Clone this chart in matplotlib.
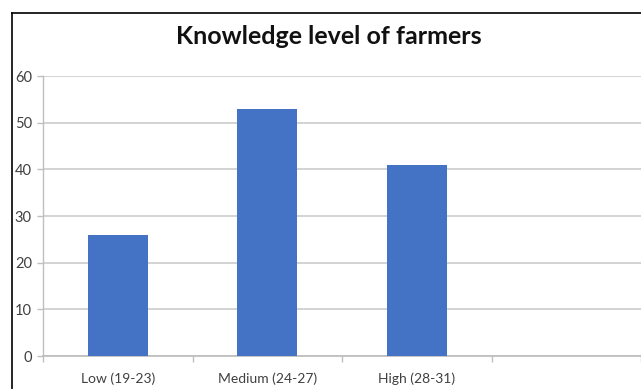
import matplotlib
matplotlib.use("Agg")
from matplotlib import pyplot as plt
from matplotlib.lines import Line2D

categories = ["Low (19-23)", "Medium (24-27)", "High (28-31)"]
values = [26, 53, 41]
yticks = [0, 10, 20, 30, 40, 50, 60]

plt.rcParams['font.family'] = ['Lato', 'DejaVu Sans']

fig = plt.figure(figsize=(6.41, 3.89), dpi=100)
fig.patch.set_facecolor("white")

W, H = 641, 389
# axes run past the right edge of the picture, like the cropped original
ax = fig.add_axes([43 / W, (H - 356) / H, 598 / W, 280 / H])

x = list(range(len(categories)))
ax.bar(x, values, width=0.4, color="#4472C4", zorder=3)

ax.set_xlim(-0.5, 3.5)
ax.set_ylim(0, 60)
ax.set_yticks(yticks)
ax.set_yticklabels([str(v) for v in yticks])
ax.set_xticks(x)
ax.set_xticklabels(categories)
ax.tick_params(axis="x", length=0, pad=12, labelsize=10, labelcolor="#404040")
ax.set_xticks([-0.5, 0.5, 1.5, 2.5, 3.5], minor=True)
ax.tick_params(axis="x", which="minor", length=4, width=1, color="#bfbfbf")
ax.tick_params(axis="y", length=4, width=1, color="#bfbfbf", pad=4,
               labelsize=10.5, labelcolor="#404040")

ax.grid(axis="y", color="#d0d0d0", linewidth=1.3, zorder=0)
for s in ["top", "right"]:
    ax.spines[s].set_visible(False)
ax.spines["left"].set_color("#bfbfbf")
ax.spines["bottom"].set_color("#bfbfbf")
ax.spines["left"].set_linewidth(1)
ax.spines["bottom"].set_linewidth(1.3)

fig.text(329 / W, (H - 37) / H, "Knowledge level of farmers",
         ha="center", va="center", fontsize=18, fontweight="bold", color="#111111")

# frame lines (left and top only, rest is cropped)
fig.add_artist(Line2D([11.5 / W, 11.5 / W], [0, (H - 12.5) / H],
                      transform=fig.transFigure, color="black", linewidth=1.2))
fig.add_artist(Line2D([11.5 / W, 1], [(H - 12.5) / H, (H - 12.5) / H],
                      transform=fig.transFigure, color="black", linewidth=1.2))

plt.savefig("out.png", dpi=100)
